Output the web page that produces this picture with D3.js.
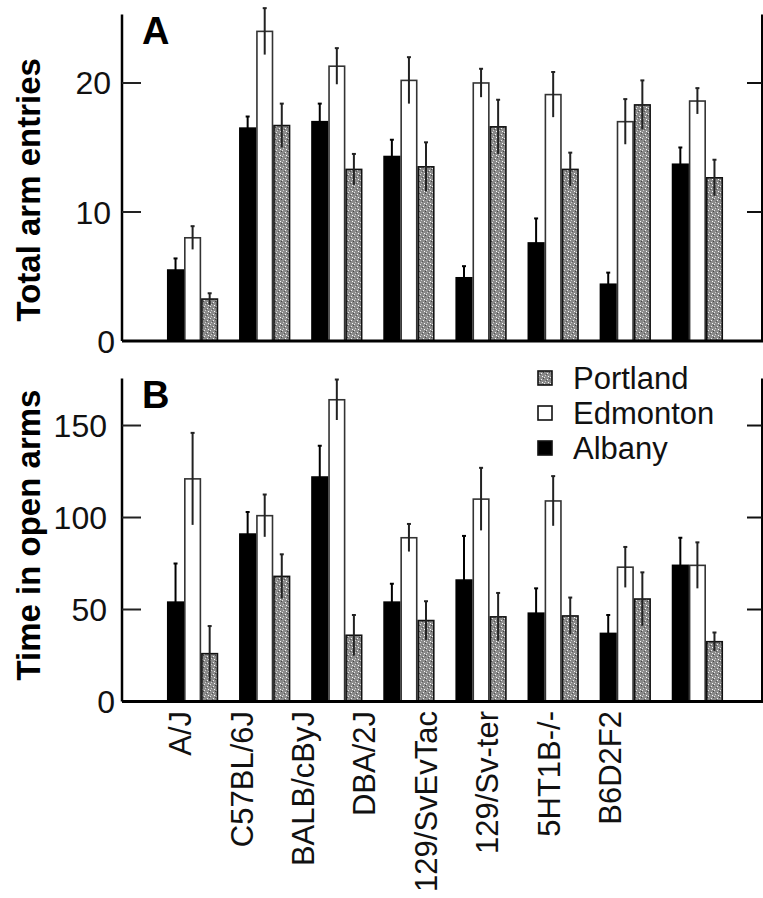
<!DOCTYPE html>
<html>
<head>
<meta charset="utf-8">
<script src="https://cdn.jsdelivr.net/npm/d3@7"></script>
<style>
  body { margin: 0; background: #fff; }
  svg { display: block; font-family: "Liberation Sans", Arial, sans-serif; }
</style>
</head>
<body>
<svg width="763" height="898"></svg>
<script>
const strains = ["A/J", "C57BL/6J", "BALB/cByJ", "DBA/2J", "129/SvEvTac", "129/Sv-ter", "5HT1B-/-", "B6D2F2"];
const series = ["Albany", "Edmonton", "Portland"];
const legendOrder = ["Portland", "Edmonton", "Albany"];

// panel A: total arm entries (mean, sem)
const albanyEntries = [5.5, 16.5, 17.0, 14.3, 4.9, 7.6, 4.4, 13.7];
const albanyEntriesErr = [0.9, 0.9, 1.4, 1.3, 0.9, 1.9, 0.9, 1.3];
const edmontonEntries = [8.0, 24.0, 21.3, 20.2, 20.0, 19.1, 17.0, 18.6];
const edmontonEntriesErr = [0.9, 1.8, 1.4, 1.8, 1.1, 1.75, 1.75, 1.0];
const portlandEntries = [3.25, 16.7, 13.3, 13.5, 16.6, 13.3, 18.3, 12.65];
const portlandEntriesErr = [0.45, 1.7, 1.2, 1.9, 2.1, 1.3, 1.9, 1.4];

// panel B: time in open arms
const albanyTime = [54, 91, 122, 54, 66, 48, 37, 74];
const albanyTimeErr = [21, 12, 17, 10, 24, 13.5, 10, 15];
const edmontonTime = [121, 101, 164, 89, 110, 109, 73, 74];
const edmontonTimeErr = [25, 11.5, 11, 7.5, 17, 13.5, 11, 12.5];
const portlandTime = [26, 68, 36, 44, 46, 46.5, 55.7, 32.5];
const portlandTimeErr = [15, 12, 11, 10.5, 13, 10, 14.5, 5];

const ticksA = [0, 10, 20];
const ticksB = [0, 50, 100, 150];

const svg = d3.select("svg");
const left = 122, right = 762;

// stippled gray texture for Portland
const defs = svg.append("defs");
const pat = defs.append("pattern").attr("id", "stip")
  .attr("patternUnits", "userSpaceOnUse").attr("width", 6).attr("height", 6);
pat.append("rect").attr("width", 6).attr("height", 6).attr("fill", "#8a8a8a");
[[0, 0, "#e8e8e8"], [3, 2, "#f4f4f4"], [1, 4, "#d0d0d0"], [4, 5, "#ffffff"], [5, 1, "#444"], [2, 3, "#555"]]
  .forEach(p => pat.append("rect").attr("x", p[0]).attr("y", p[1]).attr("width", 1).attr("height", 1).attr("fill", p[2]));

const fills = { Albany: "#000", Edmonton: "#fff", Portland: "url(#stip)" };
const strokes = { Albany: "#000", Edmonton: "#333", Portland: "#111" };

const x = d3.scaleBand().domain(strains).range([167, 723]).paddingInner(0.29).paddingOuter(0);
const xs = d3.scaleBand().domain(series).range([0, x.bandwidth()]);
// strain names sit on their own, narrower spacing in the figure
const xLabel = d3.scalePoint().domain(strains).range([180, 610]);

function panel(yScale, ticks, values, errs, title, titleShift, letter, letterY, tickEnd) {
  const g = svg.append("g");
  const y0 = yScale(0);
  const rows = [];
  strains.forEach((s, i) => series.forEach(k => rows.push({ strain: s, key: k, v: values[k][i], e: errs[k][i] })));

  g.selectAll("rect.bar").data(rows).enter().append("rect")
    .attr("class", "bar")
    .attr("x", d => x(d.strain) + xs(d.key) + 0.75)
    .attr("width", xs.bandwidth() - 1.5)
    .attr("y", d => yScale(d.v))
    .attr("height", d => y0 - yScale(d.v))
    .attr("fill", d => fills[d.key])
    .attr("stroke", d => strokes[d.key])
    .attr("stroke-width", 1.6);

  const eb = g.selectAll("g.err").data(rows).enter().append("g").attr("class", "err")
    .attr("stroke", d => d.key === "Albany" ? "#000" : "#222")
    .attr("stroke-width", 2);
  eb.append("line")
    .attr("x1", d => x(d.strain) + xs(d.key) + xs.bandwidth() / 2)
    .attr("x2", d => x(d.strain) + xs(d.key) + xs.bandwidth() / 2)
    .attr("y1", d => yScale(d.v - d.e))
    .attr("y2", d => yScale(d.v + d.e));
  eb.append("line")
    .attr("x1", d => x(d.strain) + xs(d.key) + xs.bandwidth() / 2 - 2)
    .attr("x2", d => x(d.strain) + xs(d.key) + xs.bandwidth() / 2 + 2)
    .attr("y1", d => yScale(d.v + d.e))
    .attr("y2", d => yScale(d.v + d.e));

  // left axis
  const top = yScale.range()[1];
  g.append("line").attr("x1", left).attr("x2", left).attr("y1", top).attr("y2", y0)
    .attr("stroke", "#000").attr("stroke-width", 2.5);
  g.selectAll("line.tl").data(ticks.filter(t => t > 0)).enter().append("line")
    .attr("x1", left).attr("x2", left + 19)
    .attr("y1", d => yScale(d)).attr("y2", d => yScale(d))
    .attr("stroke", "#222").attr("stroke-width", 2);
  g.selectAll("text.tk").data(ticks).enter().append("text")
    .attr("x", d => d === 0 ? 115 : tickEnd)
    .attr("y", d => yScale(d))
    .attr("dy", "0.36em")
    .attr("text-anchor", "end")
    .attr("font-size", 32)
    .attr("fill", "#111")
    .text(d => d);

  // right ticks
  g.append("line").attr("x1", right).attr("x2", right).attr("y1", top).attr("y2", y0)
    .attr("stroke", "#000").attr("stroke-width", 2);
  g.selectAll("line.tr").data(ticks.filter(t => t > 0)).enter().append("line")
    .attr("x1", right - 15).attr("x2", right)
    .attr("y1", d => yScale(d)).attr("y2", d => yScale(d))
    .attr("stroke", "#111").attr("stroke-width", 2);

  // baseline
  g.append("line").attr("x1", left).attr("x2", 763).attr("y1", y0).attr("y2", y0)
    .attr("stroke", "#000").attr("stroke-width", 3);

  // axis title
  const mid = (top + y0) / 2 + titleShift;
  g.append("text")
    .attr("transform", `translate(28,${mid}) rotate(-90)`)
    .attr("dy", "0.36em")
    .attr("text-anchor", "middle")
    .attr("font-size", 33)
    .attr("font-weight", "bold")
    .text(title);

  g.append("text").attr("x", 142).attr("y", letterY)
    .attr("font-size", 38).attr("font-weight", "bold").text(letter);
}

const byKey = (a, b, c) => ({ Albany: a, Edmonton: b, Portland: c });

const yA = d3.scaleLinear().domain([0, 25.3]).range([341, 14.6]);
panel(yA, ticksA,
  byKey(albanyEntries, edmontonEntries, portlandEntries),
  byKey(albanyEntriesErr, edmontonEntriesErr, portlandEntriesErr),
  "Total arm entries", 12, "A", 44, 111);

const yB = d3.scaleLinear().domain([0, 175.5]).range([701.5, 378.6]);
panel(yB, ticksB,
  byKey(albanyTime, edmontonTime, portlandTime),
  byKey(albanyTimeErr, edmontonTimeErr, portlandTimeErr),
  "Time in open arms", -5, "B", 408, 107);

// legend
const leg = svg.append("g").attr("transform", "translate(538,371)");
legendOrder.forEach((k, i) => {
  leg.append("rect").attr("x", 0).attr("y", i * 35).attr("width", 14).attr("height", 14)
    .attr("fill", fills[k]).attr("stroke", "#111").attr("stroke-width", 1.6);
  leg.append("text").attr("x", 35).attr("y", i * 35 + 7).attr("dy", "0.36em")
    .attr("font-size", 31).attr("fill", "#111").text(k);
});

// strain labels
svg.selectAll("text.strain").data(strains).enter().append("text")
  .attr("class", "strain")
  .attr("transform", d => `translate(${xLabel(d)},711) rotate(-90)`)
  .attr("dy", "0.36em")
  .attr("text-anchor", "end")
  .attr("font-size", 31)
  .attr("fill", "#111")
  .text(d => d);
</script>
</body>
</html>
